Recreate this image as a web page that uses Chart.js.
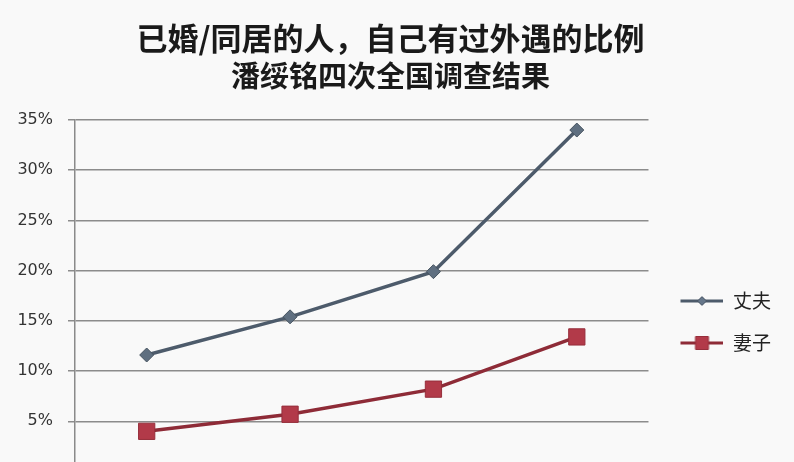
<!DOCTYPE html>
<html>
<head>
<meta charset="utf-8">
<script src="https://cdn.jsdelivr.net/npm/chart.js@4/dist/chart.umd.min.js"></script>
<style>
  html, body { margin: 0; padding: 0; overflow: hidden; background: #f9f9f9; }
  #wrap { width: 794px; height: 644px; }
</style>
</head>
<body>
<div id="wrap"><canvas id="chart" width="794" height="644"></canvas></div>
<script>
// DATA
const years = ['2000', '2006', '2010', '2015'];
const husband = [11.6, 15.4, 19.9, 34.0];
const wife = [4.0, 5.7, 8.2, 13.4];
const seriesNames = ['丈夫', '妻子'];
const titleText = '已婚/同居的人，自己有过外遇的比例';
const subtitleText = '潘绥铭四次全国调查结果';
const yMax = 35;
const yStep = 5;

// legend icon : line + marker (blank margin on the left)
function legendIcon(lineColor, fill, border, shape) {
  let c = document.createElement('canvas');
  c.width = 52;
  c.height = 20;
  let g = c.getContext('2d');
  g.strokeStyle = lineColor;
  g.lineWidth = 3;
  g.beginPath();
  g.moveTo(9, 10);
  g.lineTo(52, 10);
  g.stroke();
  g.fillStyle = fill;
  g.strokeStyle = border;
  g.lineWidth = 1;
  g.beginPath();
  if (shape == 'diamond') {
    g.moveTo(30.5 - 4.5, 10);
    g.lineTo(30.5, 5.5);
    g.lineTo(30.5 + 4.5, 10);
    g.lineTo(30.5, 14.5);
    g.closePath();
  } else {
    g.rect(24, 3.5, 13, 13);
  }
  g.fill();
  g.stroke();
  return c;
}
let icons = [
  legendIcon('#4d5b6b', '#66778a', '#4a5664', 'diamond'),
  legendIcon('#8e2b37', '#b23a49', '#962e3b', 'square')
];

const cjk = "'Noto Sans CJK SC', 'Noto Sans', sans-serif";
let defaultGen = Chart.defaults.plugins.legend.labels.generateLabels;

let ctx = document.getElementById('chart').getContext('2d');
let chart = new Chart(ctx, {
  type: 'line',
  data: {
    labels: years,
    datasets: [{
      label: seriesNames[0],
      data: husband,
      borderColor: '#4d5b6b',
      borderWidth: 3.5,
      tension: 0,
      pointStyle: 'rectRot',
      pointRadius: 7,
      pointBackgroundColor: '#5f6f80',
      pointBorderColor: '#46535f',
      pointBorderWidth: 1
    }, {
      label: seriesNames[1],
      data: wife,
      borderColor: '#8e2b37',
      borderWidth: 3.5,
      tension: 0,
      pointStyle: 'rect',
      pointRadius: 11.5,
      pointBackgroundColor: '#b23a49',
      pointBorderColor: '#962e3b',
      pointBorderWidth: 1
    }]
  },
  options: {
    responsive: false,
    animation: false,
    layout: { padding: { left: 0, right: 13, top: 0, bottom: 0 } },
    scales: {
      x: {
        offset: true,
        grid: { display: false, tickLength: 7 },
        border: { color: '#8a8a8a', width: 1.5 },
        ticks: { font: { family: 'DejaVu Sans', size: 16 }, color: '#333' },
        afterFit: function(scale) { scale.height = 172.5; }
      },
      y: {
        min: 0,
        max: yMax,
        ticks: {
          stepSize: yStep,
          padding: 15,
          color: '#333',
          font: { family: 'DejaVu Sans', size: 16 },
          callback: (v) => v + '%'
        },
        grid: { color: '#8c8c8c', lineWidth: 1.5, tickLength: 7 },
        border: { color: '#8a8a8a', width: 1.5 },
        afterFit: function(scale) { scale.width = 75; }
      }
    },
    plugins: {
      title: {
        display: true,
        text: titleText,
        color: '#1a1a1a',
        font: { family: cjk, size: 31, weight: 'bold' },
        padding: { top: 20, bottom: 0 }
      },
      subtitle: {
        display: true,
        text: subtitleText,
        color: '#1a1a1a',
        font: { family: cjk, size: 29, weight: 'bold' },
        padding: { top: 1.4, bottom: 26.6 }
      },
      legend: {
        position: 'right',
        labels: {
          usePointStyle: true,
          pointStyleWidth: 52,
          boxHeight: 19,
          padding: 23,
          color: '#222',
          font: { family: cjk, size: 19 },
          generateLabels: function(ch) {
            let items = defaultGen(ch);
            items.forEach((it, i) => { it.pointStyle = icons[i]; });
            return items;
          }
        }
      },
      tooltip: { enabled: false }
    }
  }
});
</script>
</body>
</html>
